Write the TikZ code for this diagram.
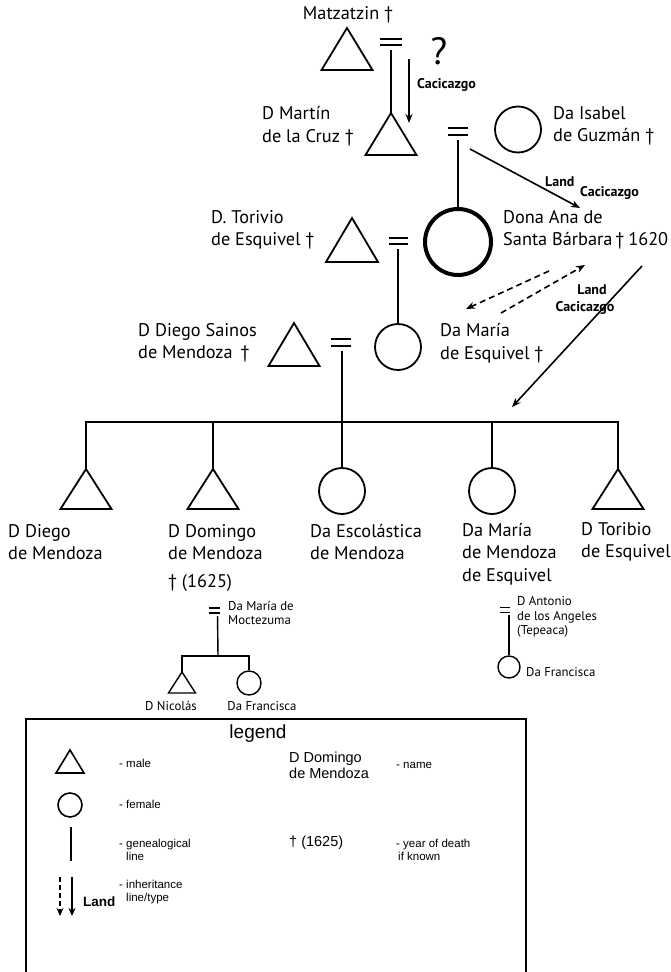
\documentclass[tikz,border=0pt]{standalone}
\usepackage{fontspec}
\newfontfamily\mf{PT Sans}
\newfontfamily\lf{Liberation Sans}
\usetikzlibrary{arrows.meta}
\newcommand\maletri[4]{\coordinate (#1) at (#2);
  \draw[gl,line join=miter] (#1) -- ++(#3/2,#4) -- ++(-#3,0) -- cycle;}
\newcommand\eqsign[5]{\node[inner sep=0pt,outer sep=0pt,minimum width=#3,minimum height=#4] (#1) at (#2) {};
  \draw[line width=#5] (#1.north west) -- (#1.north east) (#1.south west) -- (#1.south east);}
\begin{document}
\begin{tikzpicture}[x=1pt,y=-1pt,
  gl/.style={line width=1.8pt},
  thin gl/.style={line width=1.4pt},
  fem/.style={circle,draw,line width=1.8pt,inner sep=0pt,minimum size=46pt},
  femsmall/.style={circle,draw,line width=1.4pt,inner sep=0pt,minimum size=#1},
  arr/.style={line width=1.6pt,-{Stealth[length=9pt,width=7pt]}},
  darr/.style={arr,dash pattern=on 6pt off 4pt},
  lab/.style={font=\mf\fontsize{18.3}{22.5}\selectfont,align=left,inner sep=0pt,anchor=west},
  small/.style={font=\mf\fontsize{12.8}{14.5}\selectfont,align=left,inner sep=0pt,anchor=west},
  bl/.style={font=\mf\bfseries\fontsize{14}{16}\selectfont,inner sep=0pt,anchor=west},
  leg/.style={font=\lf\fontsize{11.5}{13.5}\selectfont,align=left,inner sep=0pt,anchor=west},
  legm/.style={font=\lf\fontsize{14.5}{16}\selectfont,align=left,inner sep=0pt,anchor=west}]
\useasboundingbox (0,0) rectangle (671,972);

% ---------- generation 1
\node[lab,anchor=center] (matzl) at (348,15) {Matzatzin †};
\maletri{matz}{347,28}{51}{42}
\eqsign{e1}{391,42}{22pt}{6.5pt}{1.8pt}
\node[font=\mf\fontsize{38}{40}\selectfont,inner sep=0pt] (q) at (439,51) {?};
\coordinate (a1s) at (409,59);
\coordinate (a1e) at (409,123);
\draw[arr] (a1s) -- (a1e);
\node[bl] (cac1) at (417,85) {Cacicazgo};

% ---------- generation 2
\maletri{mart}{391,113}{51}{42}
\draw[gl,shorten <=5pt] (e1.south) -- (mart);
\node[lab] (martl) at (262,126) {D Martín\\de la Cruz †};
\eqsign{e2}{458,131.5}{20pt}{7pt}{1.8pt}
\node[fem] (isabel) at (518,129.5) {};
\node[lab] (isabell) at (553,126) {Da Isabel\\de Guzmán †};
\coordinate (a2s) at (470,149);
\coordinate (a2e) at (580,208);
\draw[arr] (a2s) -- (a2e);
\node[bl] (land1) at (545,182) {Land};
\node[bl] (cac2) at (580,193) {Cacicazgo};

% ---------- generation 3
\node[circle,draw,line width=4pt,inner sep=0pt,minimum size=66pt] (ana) at (458,242) {};
\draw[gl,shorten <=5pt] (e2.south) -- (ana.north);
\node[lab] (anal) at (503,230) {Dona Ana de\\Santa Bárbara\hspace{3pt}†\hspace{4pt}1620};
\maletri{tor}{352,218}{52}{44}
\node[lab] (torl) at (211,230) {D. Torivio\\de Esquivel †};
\eqsign{e3}{398,241}{19pt}{6.5pt}{1.8pt}
\coordinate (a3s) at (549,271);
\coordinate (a3e) at (466,309);
\draw[darr] (a3s) -- (a3e);
\coordinate (a4s) at (501,313);
\coordinate (a4e) at (585,265);
\draw[darr] (a4s) -- (a4e);
\node[bl,anchor=center] (land2) at (592,290) {Land};
\node[bl,anchor=center] (cac3) at (585,308) {Cacicazgo};
\coordinate (a5s) at (642,266);
\coordinate (a5e) at (512,407);
\draw[arr] (a5s) -- (a5e);

% ---------- generation 4
\node[fem] (mariae) at (398,347) {};
\draw[gl,shorten <=5pt] (e3.south) -- (mariae.north);
\node[lab] (mariael) at (440,343) {Da María\\de Esquivel †};
\maletri{diego}{294,323}{51}{43}
\node[lab] (diegol) at (138,343) {D Diego Sainos\\de Mendoza\hspace{8pt}†};
\eqsign{e4}{341,342.5}{20pt}{7pt}{1.8pt}
\coordinate (bar) at (342,422);
\draw[gl,shorten <=5pt] (e4.south -| bar) -- (bar);

% ---------- children
\maletri{c1}{86,469}{51}{40}
\maletri{c2}{213,469}{51}{40}
\node[fem] (c3) at (342,491) {};
\node[fem] (c4) at (492,491) {};
\maletri{c5}{618,469}{51}{40}
\draw[gl] (c1) |- (bar) -| (c5);
\draw[gl] (c2) -- (c2 |- bar);
\draw[gl] (c3.north) -- (c3.north |- bar);
\draw[gl] (c4.north) -- (c4.north |- bar);
\node[lab] (c1l) at (8,542) {D Diego\\de Mendoza};
\node[lab] (c2l) at (168,542) {D Domingo\\de Mendoza};
\node[lab] (c3l) at (310,542) {Da Escolástica\\de Mendoza};
\node[lab] (c4l) at (462,554) {Da María\\de Mendoza\\de Esquivel};
\node[lab] (c5l) at (581,542) {D Toribio\\de Esquivel};
\node[lab] (c2d) at (168,583) {† (1625)};

% ---------- grandchildren (D Domingo)
\eqsign{e5}{214.5,610.5}{11pt}{5pt}{1.2pt}
\node[small] (moct) at (228,613) {Da María de\\Moctezuma};
\coordinate (br1) at (218,656);
\draw[thin gl,shorten <=3pt] (e5.south east) ++(-2.5,0) -- (br1);
\coordinate (nic) at (182,672);
\draw[thin gl,line join=miter] (nic) -- ++(13.5,21) -- ++(-27,0) -- cycle;
\node[femsmall=24pt] (fra1) at (249,683) {};
\draw[thin gl] (nic) |- (br1) -| (fra1.north);
\node[small,anchor=center] (nicl) at (171,706) {D Nicolás};
\node[small,anchor=center] (fra1l) at (262,706) {Da Francisca};

% ---------- grandchildren (Da María de Mendoza)
\eqsign{e6}{504.5,610}{10pt}{4.5pt}{1.2pt}
\node[small] (anton) at (517,617) {D Antonio\\de los Angeles\\(Tepeaca)};
\node[femsmall=22pt] (fra2) at (509,667) {};
\draw[thin gl,shorten <=3pt] (e6.south east) ++(-0.5,0) -- (fra2.north);
\node[small] (fra2l) at (526,672) {Da Francisca};

% ---------- legend
\node[draw,line width=1.5pt,inner sep=0pt,minimum width=500pt,minimum height=320pt,anchor=north west] (legbox) at (25,718) {};
\node[font=\lf\fontsize{19}{21}\selectfont,inner sep=0pt] (legt) at (258,734) {legend};
\coordinate (lm) at (70,750);
\draw[line width=1.6pt,line join=miter] (lm) -- ++(14,23) -- ++(-28,0) -- cycle;
\node[leg] (lml) at (119,763) {- male};
\node[circle,draw,line width=1.6pt,inner sep=0pt,minimum size=24pt] (lf) at (70,805) {};
\node[leg] (lfl) at (119,804) {- female};
\coordinate (lgs) at (71,827);
\coordinate (lge) at (71,861);
\draw[line width=1.6pt] (lgs) -- (lge);
\node[leg] (lgl) at (119,850) {- genealogical\\\phantom{- }line};
\coordinate (lds) at (60,877);
\coordinate (lde) at (60,916);
\draw[line width=1.4pt,dash pattern=on 5pt off 3pt,-{Stealth[length=8pt,width=7pt]}] (lds) -- (lde);
\coordinate (lss) at (72,877);
\coordinate (lse) at (72,916);
\draw[line width=1.4pt,-{Stealth[length=8pt,width=7pt]}] (lss) -- (lse);
\node[font=\lf\bfseries\fontsize{13.5}{15}\selectfont,inner sep=0pt,anchor=west] (lland) at (83,902) {Land};
\node[leg] (lil) at (119,892) {- inheritance\\\phantom{- }line/type};
\node[legm] (ldm) at (289,765) {D Domingo\\de Mendoza};
\node[leg] (lnm) at (396,765) {- name};
\node[legm] (ldd) at (289,843) {† (1625)};
\node[leg] (lyd) at (396,850) {- year of death\\\hspace{2pt}if known};
\end{tikzpicture}
\end{document}
